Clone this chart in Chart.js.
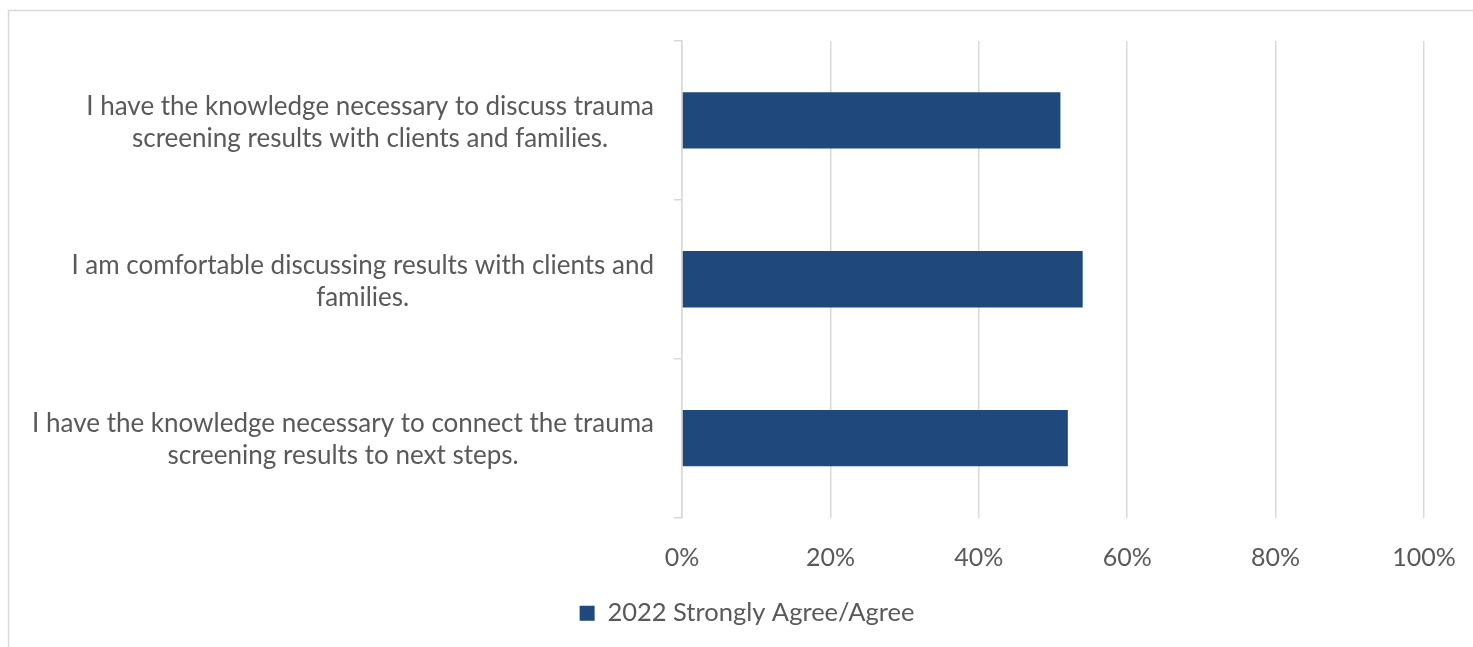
<!DOCTYPE html>
<html>
<head>
<meta charset="utf-8">
<script src="https://cdn.jsdelivr.net/npm/chart.js@4.4.1/dist/chart.umd.min.js"></script>
<style>
    html, body { margin: 0; padding: 0; background: #ffffff; }
    #wrap { width: 1473px; height: 647px; }
</style>
</head>
<body>
<div id="wrap"><canvas id="mychart" width="1473" height="647"></canvas></div>
<script>
const statements = [
    ['I have the knowledge necessary to discuss trauma', 'screening results with clients and families.'],
    ['I am comfortable discussing results with clients and', 'families.'],
    ['I have the knowledge necessary to connect the trauma', 'screening results to next steps.']
];
const agreeShare = [51, 54, 52];
const seriesName = '2022 Strongly Agree/Agree';
const percentTicks = ['0%', '20%', '40%', '60%', '80%', '100%'];

const textColor = '#595959';
const gridColor = '#d9d9d9';
const fontFamily = 'Lato, "Open Sans", sans-serif';
const lineHeight = 32;

const ctx = document.getElementById('mychart');

// thin frame along the top and left edges
const pluginFrame = {
    id: 'frame',
    beforeDraw: (chart) => {
        const c = chart.ctx;
        c.save();
        c.strokeStyle = gridColor;
        c.lineWidth = 1.5;
        c.beginPath();
        c.moveTo(8.5, chart.height + 5);
        c.lineTo(8.5, 10.5);
        c.lineTo(chart.width + 5, 10.5);
        c.stroke();
        c.restore();
    }
};

// category labels: each block sits left of the axis, its lines centred on each other
const pluginCategoryLabels = {
    id: 'categoryLabels',
    afterDraw: (chart) => {
        const c = chart.ctx;
        const yScale = chart.scales.y;
        const right = chart.chartArea.left - 28;
        c.save();
        c.font = '26px ' + fontFamily;
        c.fillStyle = textColor;
        c.textAlign = 'center';
        c.textBaseline = 'middle';
        statements.forEach((lines, i) => {
            const widest = Math.max(...lines.map(l => c.measureText(l).width));
            const cx = right - widest / 2;
            const cy = yScale.getPixelForValue(i) + 2;
            lines.forEach((line, j) => {
                c.fillText(line, cx, cy + (j - (lines.length - 1) / 2) * lineHeight);
            });
        });
        c.restore();
    }
};

var chart = new Chart(ctx, {
    type: 'bar',
    data: {
        labels: statements,
        datasets: [{
            label: seriesName,
            data: agreeShare,
            backgroundColor: '#1f497d',
            borderWidth: 0,
            categoryPercentage: 1,
            barPercentage: 0.355
        }]
    },
    options: {
        indexAxis: 'y',
        responsive: false,
        animation: false,
        layout: {
            padding: { left: 70, right: 49, top: 41, bottom: 11 }
        },
        scales: {
            x: {
                min: 0,
                max: 100,
                border: { display: false },
                grid: {
                    color: gridColor,
                    lineWidth: 1.5,
                    drawTicks: true,
                    tickLength: 15,
                    tickColor: 'transparent'
                },
                ticks: {
                    stepSize: 20,
                    padding: 10,
                    color: textColor,
                    font: { family: fontFamily, size: 25 },
                    callback: (value) => percentTicks[value / 20]
                }
            },
            y: {
                border: { color: gridColor, width: 1.5 },
                grid: {
                    offset: true,
                    drawOnChartArea: false,
                    drawTicks: true,
                    tickLength: 8,
                    color: gridColor,
                    lineWidth: 1.5
                },
                ticks: { display: false },
                // room for the wrapped statements, drawn by pluginCategoryLabels
                afterFit: (scale) => { scale.width = 612; }
            }
        },
        plugins: {
            legend: {
                position: 'bottom',
                labels: {
                    boxWidth: 15,
                    boxHeight: 15,
                    padding: 18,
                    color: textColor,
                    font: { family: fontFamily, size: 25.5 }
                }
            },
            tooltip: { enabled: false }
        }
    },
    plugins: [pluginFrame, pluginCategoryLabels]
});
</script>
</body>
</html>
